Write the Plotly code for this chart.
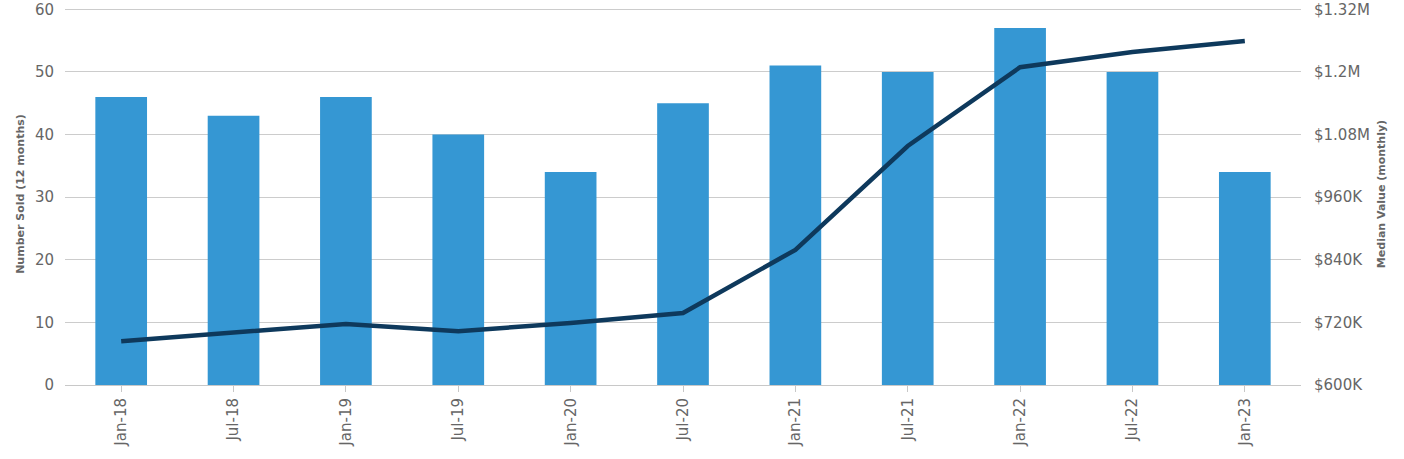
import plotly.graph_objects as go

categories = ["Jan-18", "Jul-18", "Jan-19", "Jul-19", "Jan-20", "Jul-20",
              "Jan-21", "Jul-21", "Jan-22", "Jul-22", "Jan-23"]
number_sold = [46, 43, 46, 40, 34, 45, 51, 50, 57, 50, 34]
median_value = [684000, 700000, 717000, 703000, 719000, 738000,
                859000, 1058000, 1209000, 1238000, 1259000]

left_ticks = [0, 10, 20, 30, 40, 50, 60]
right_tickvals = [600000, 720000, 840000, 960000, 1080000, 1200000, 1320000]
right_ticktext = ["$600K", "$720K", "$840K", "$960K", "$1.08M", "$1.2M", "$1.32M"]

font_family = "DejaVu Sans"
gray = "#666666"

fig = go.Figure()
fig.add_trace(go.Bar(
    x=categories, y=number_sold, name="Number Sold (12 months)",
    marker=dict(color="#3597d3", line=dict(width=0)), width=0.46, yaxis="y",
))
fig.add_trace(go.Scatter(
    x=categories, y=median_value, name="Median Value (monthly)",
    mode="lines", line=dict(color="#0e395c", width=4.5), yaxis="y2",
))

fig.update_layout(
    width=1404, height=459,
    margin=dict(l=65, r=103, t=3, b=74, autoexpand=False),
    paper_bgcolor="white", plot_bgcolor="white",
    showlegend=False,
    font=dict(family=font_family, color=gray, size=15),
    xaxis=dict(
        tickangle=-90, tickfont=dict(size=15, color=gray),
        showgrid=False, showline=True, linecolor="#c8c8c8", linewidth=1,
        ticks="outside", ticklen=6, tickcolor="#c8c8c8",
        range=[-0.5, 10.5], automargin=False,
    ),
    yaxis=dict(
        range=[0, 61], tickvals=left_ticks, showgrid=True, gridcolor="#cccccc",
        gridwidth=1, zeroline=False, tickfont=dict(size=15, color=gray),
        ticklabelstandoff=10, automargin=False,
        title=dict(text="<b>Number Sold (12 months)</b>", font=dict(size=11, color=gray), standoff=8),
    ),
    yaxis2=dict(
        range=[600000, 1332000], tickvals=right_tickvals, ticktext=right_ticktext,
        overlaying="y", side="right", showgrid=False, zeroline=False,
        tickfont=dict(size=15, color=gray), ticklabelstandoff=12, automargin=False,
        title=dict(text="<b>Median Value (monthly)</b>", font=dict(size=11, color=gray), standoff=8),
    ),
    bargap=0.54,
)

fig.write_html("out.html", config={"displayModeBar": False},
               post_script="document.body.style.margin='0';")
